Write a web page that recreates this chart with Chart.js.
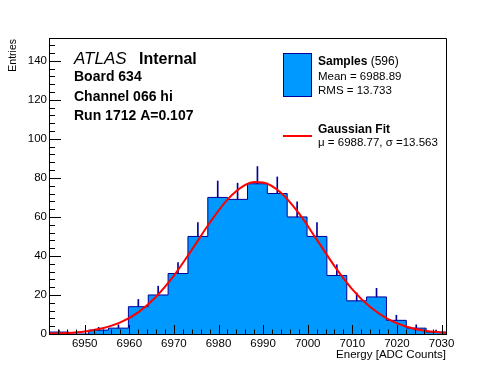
<!DOCTYPE html>
<html>
<head>
<meta charset="utf-8">
<script src="https://cdn.jsdelivr.net/npm/chart.js@4/dist/chart.umd.min.js"></script>
<style>
html,body{margin:0;padding:0;background:#fff;}
#c{display:block;}
</style>
</head>
<body>
<canvas id="c" width="496" height="372"></canvas>
<script>
// ---- data ----
const BIN_EDGES = [6942, 6946.45, 6950.9, 6955.35, 6959.8, 6964.25, 6968.7, 6973.15, 6977.6, 6982.05, 6986.5,
                   6990.95, 6995.4, 6999.85, 7004.3, 7008.75, 7013.2, 7017.65, 7022.1, 7026.55, 7031];
const COUNTS = [1, 0, 2, 3, 14, 20, 31, 50, 70, 69, 77, 72, 60, 50, 30, 17, 19, 7, 3, 1];
const ERRORS = [1, 0, 1.4, 1.7, 3.7, 4.5, 5.6, 7.1, 8.4, 8.3, 8.8, 8.5, 7.7, 7.1, 5.5, 4.1, 4.4, 2.6, 1.7, 1];
const FIT_X = [6942, 6946, 6950, 6954, 6958, 6962, 6966, 6970, 6974, 6978, 6982, 6986, 6988, 6990, 6994, 6998,
               7002, 7006, 7010, 7014, 7018, 7022, 7026, 7030, 7031];
const FIT_Y = [0.2, 0.54, 1.31, 2.92, 5.95, 11.1, 19.1, 29.9, 43.1, 56.9, 68.9, 76.4, 77.9, 77.7, 72.4, 61.9,
               48.5, 34.8, 22.9, 13.8, 7.65, 3.88, 1.8, 0.77, 0.61];
const X_TICKS = [6950, 6960, 6970, 6980, 6990, 7000, 7010, 7020, 7030];
const Y_TICKS = [0, 20, 40, 60, 80, 100, 120, 140];
const X_RANGE = [6942, 7031];
const Y_RANGE = [0, 151.7];

const LABEL_ATLAS = 'ATLAS';
const LABEL_INTERNAL = 'Internal';
const INFO_LINES = ['Board 634', 'Channel 066 hi', 'Run 1712 A=0.107'];
const LEG_SAMPLES = ['Samples', ' (596)'];
const LEG_STATS = ['Mean = 6988.89', 'RMS = 13.733'];
const LEG_FIT = 'Gaussian Fit';
const LEG_FIT_PARAMS = 'μ = 6988.77, σ =13.563';
const X_TITLE = 'Energy [ADC Counts]';
const Y_TITLE = 'Entries';

// ---- styling ----
const FILL = '#0099ff';
const LINE = '#000099';
const FONT = '"Liberation Sans", Arial, Helvetica, sans-serif';

// histogram outline points (step before)
const histPts = [{x: BIN_EDGES[0], y: 0}];
COUNTS.forEach((c, i) => histPts.push({x: BIN_EDGES[i], y: c}));
histPts.push({x: BIN_EDGES[BIN_EDGES.length - 1], y: COUNTS[COUNTS.length - 1]});
histPts.push({x: BIN_EDGES[BIN_EDGES.length - 1], y: 0});

const errPts = [];
COUNTS.forEach((c, i) => {
  if (ERRORS[i] > 0) errPts.push({x: (BIN_EDGES[i] + BIN_EDGES[i + 1]) / 2, y: [c, c + ERRORS[i]]});
});
const fitPts = FIT_X.map((x, i) => ({x, y: FIT_Y[i]}));

const decor = {
  id: 'decor',
  afterDatasetsDraw(chart) {
    const {ctx, chartArea: a, scales: {x, y}} = chart;
    ctx.save();
    ctx.strokeStyle = '#000';
    ctx.lineWidth = 1;
    ctx.beginPath();
    // frame top & right
    ctx.moveTo(a.left, Math.round(a.top) + 0.5);
    ctx.lineTo(a.right + 0.5, Math.round(a.top) + 0.5);
    ctx.lineTo(Math.round(a.right) + 0.5, a.bottom);
    // x ticks (inside)
    for (let v = 6942; v <= X_RANGE[1]; v += 2) {
      const px = Math.round(x.getPixelForValue(v)) + 0.5;
      const len = (v % 10 === 0) ? 9 : 4.5;
      ctx.moveTo(px, a.bottom);
      ctx.lineTo(px, a.bottom - len);
    }
    // y ticks (inside)
    for (let v = 0; v <= Y_RANGE[1]; v += 4) {
      const py = Math.round(y.getPixelForValue(v)) + 0.5;
      const len = (v % 20 === 0) ? 12 : 6;
      ctx.moveTo(a.left, py);
      ctx.lineTo(a.left + len, py);
    }
    ctx.stroke();
    ctx.restore();
  },
  afterDraw(chart) {
    const {ctx, chartArea: a} = chart;
    ctx.save();
    ctx.fillStyle = '#000';
    ctx.textBaseline = 'alphabetic';
    ctx.textAlign = 'left';
    // ATLAS label
    ctx.font = 'italic 17px ' + FONT;
    ctx.fillText(LABEL_ATLAS, 74, 63.5);
    ctx.font = 'bold 16px ' + FONT;
    ctx.fillText(LABEL_INTERNAL, 139, 63.5);
    ctx.font = 'bold 14px ' + FONT;
    const base = [81, 100.7, 120.3];
    INFO_LINES.forEach((t, i) => ctx.fillText(t, 74, base[i]));

    // legend
    ctx.fillStyle = FILL;
    ctx.fillRect(283, 53, 29, 44);
    ctx.strokeStyle = LINE;
    ctx.lineWidth = 1;
    ctx.strokeRect(283.5, 53.5, 28, 43);
    ctx.fillStyle = '#000';
    ctx.font = 'bold 12px ' + FONT;
    ctx.fillText(LEG_SAMPLES[0], 318, 65);
    const w = ctx.measureText(LEG_SAMPLES[0]).width;
    ctx.font = '12px ' + FONT;
    ctx.fillText(LEG_SAMPLES[1], 318 + w, 65);
    ctx.font = '11.5px ' + FONT;
    ctx.fillText(LEG_STATS[0], 318, 80);
    ctx.fillText(LEG_STATS[1], 318, 94);
    ctx.strokeStyle = '#ff0000';
    ctx.lineWidth = 2;
    ctx.beginPath();
    ctx.moveTo(283, 136);
    ctx.lineTo(312, 136);
    ctx.stroke();
    ctx.font = 'bold 12px ' + FONT;
    ctx.fillText(LEG_FIT, 318, 132.7);
    ctx.font = '11.5px ' + FONT;
    ctx.fillText(LEG_FIT_PARAMS, 318, 145.5);

    // axis titles
    ctx.font = '11.5px ' + FONT;
    ctx.textAlign = 'right';
    ctx.fillText(X_TITLE, a.right, 358);
    ctx.save();
    ctx.translate(16, a.top + 1);
    ctx.rotate(-Math.PI / 2);
    ctx.font = '10.5px ' + FONT;
    ctx.textAlign = 'right';
    ctx.fillText(Y_TITLE, 0, 0);
    ctx.restore();
    ctx.restore();
  }
};

new Chart(document.getElementById('c'), {
  type: 'line',
  data: {
    datasets: [
      {
        type: 'line', label: 'fit', data: fitPts, order: 0,
        borderColor: '#ff0000', borderWidth: 2, pointRadius: 0,
        cubicInterpolationMode: 'monotone', fill: false
      },
      {
        type: 'bar', label: 'err', data: errPts, order: 1,
        backgroundColor: LINE, borderWidth: 0, barThickness: 1, grouped: false
      },
      {
        type: 'line', label: 'Samples', data: histPts, order: 2,
        borderColor: LINE, borderWidth: 1, backgroundColor: FILL,
        stepped: 'before', fill: 'origin', pointRadius: 0, tension: 0
      }
    ]
  },
  options: {
    responsive: false,
    animation: false,
    layout: {padding: {left: 0, top: 38, right: 50, bottom: 0}},
    plugins: {legend: {display: false}, tooltip: {enabled: false}, title: {display: false}},
    scales: {
      x: {
        type: 'linear', min: X_RANGE[0], max: X_RANGE[1], offset: false,
        grid: {display: false, drawTicks: false, offset: false},
        border: {display: true, color: '#000', width: 1},
        ticks: {
          color: '#000', font: {family: FONT, size: 11.5}, padding: 3,
          maxRotation: 0, autoSkip: false, callback: v => String(v)
        },
        afterBuildTicks: s => { s.ticks = X_TICKS.map(v => ({value: v})); },
        afterFit: s => { s.height = 38; }
      },
      y: {
        type: 'linear', min: Y_RANGE[0], max: Y_RANGE[1],
        grid: {display: false, drawTicks: false},
        border: {display: true, color: '#000', width: 1},
        ticks: {
          color: '#000', font: {family: FONT, size: 11.5}, padding: 2,
          autoSkip: false, callback: v => String(v)
        },
        afterBuildTicks: s => { s.ticks = Y_TICKS.map(v => ({value: v})); },
        afterFit: s => { s.width = 49; }
      }
    }
  },
  plugins: [decor]
});
</script>
</body>
</html>
